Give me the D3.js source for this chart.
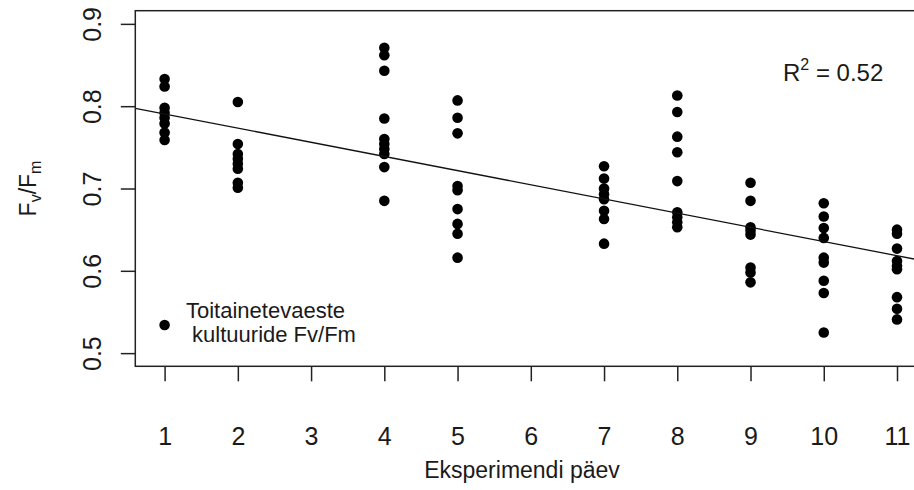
<!DOCTYPE html>
<html>
<head>
<meta charset="utf-8">
<script src="https://cdn.jsdelivr.net/npm/d3@7"></script>
<style>
  body { margin: 0; background: #fff; }
  text { font-family: "Liberation Sans", Arial, sans-serif; fill: #1a1a1a; }
</style>
</head>
<body>
<div class="chart"></div>
<script>
const days = [1, 2, 4, 5, 7, 8, 9, 10, 11];
const day1 = [0.833, 0.824, 0.798, 0.792, 0.786, 0.779, 0.768, 0.759];
const day2 = [0.805, 0.754, 0.742, 0.736, 0.730, 0.724, 0.707, 0.701];
const day4 = [0.871, 0.862, 0.843, 0.785, 0.760, 0.754, 0.748, 0.742, 0.726, 0.685];
const day5 = [0.807, 0.786, 0.767, 0.703, 0.698, 0.675, 0.657, 0.645, 0.616];
const day7 = [0.727, 0.712, 0.700, 0.693, 0.687, 0.673, 0.663, 0.633];
const day8 = [0.813, 0.793, 0.763, 0.744, 0.709, 0.671, 0.665, 0.659, 0.653];
const day9 = [0.707, 0.685, 0.653, 0.649, 0.644, 0.604, 0.598, 0.586];
const day10 = [0.682, 0.666, 0.652, 0.640, 0.616, 0.610, 0.588, 0.573, 0.525];
const day11 = [0.650, 0.645, 0.627, 0.612, 0.606, 0.602, 0.568, 0.554, 0.541];
const dayValues = [day1, day2, day4, day5, day7, day8, day9, day10, day11];

const xTicks = [1, 2, 3, 4, 5, 6, 7, 8, 9, 10, 11];
const yTicks = [0.5, 0.6, 0.7, 0.8, 0.9];
const fitCoef = [0.8078, -0.01722]; // intercept, slope
const r2Label = "0.52";
const legendLines = ["Toitainetevaeste", " kultuuride Fv/Fm"];

const points = [];
days.forEach((d, i) => dayValues[i].forEach(v => points.push({day: d, value: v})));

const width = 914, height = 490;
const svg = d3.select(".chart").append("svg")
    .attr("width", width)
    .attr("height", height);

const x = d3.scaleLinear().domain([0.6, 11.4]).range([135.3, 926.3]);
const y = d3.scaleLinear().domain([0.484, 0.916]).range([366.3, 10.7]);

svg.append("clipPath").attr("id", "plotclip")
    .append("rect")
    .attr("x", x(0.6)).attr("y", y(0.916))
    .attr("width", x(11.4) - x(0.6)).attr("height", y(0.484) - y(0.916));

// points
svg.append("g")
    .selectAll("circle")
    .data(points)
    .enter()
    .append("circle")
    .attr("cx", d => x(d.day))
    .attr("cy", d => y(d.value))
    .attr("r", 5.3)
    .attr("fill", "#000");

// regression line
svg.append("line")
    .attr("clip-path", "url(#plotclip)")
    .attr("x1", x(0.6)).attr("y1", y(fitCoef[0] + fitCoef[1] * 0.6))
    .attr("x2", x(11.4)).attr("y2", y(fitCoef[0] + fitCoef[1] * 11.4))
    .attr("stroke", "#111")
    .attr("stroke-width", 1.3);

// box
svg.append("rect")
    .attr("x", x(0.6)).attr("y", y(0.916))
    .attr("width", x(11.4) - x(0.6)).attr("height", y(0.484) - y(0.916))
    .attr("fill", "none")
    .attr("stroke", "#222")
    .attr("stroke-width", 1.5);

// axes
const xAxis = d3.axisBottom(x).tickValues(xTicks).tickSize(15).tickSizeOuter(0).tickPadding(46);
const gx = svg.append("g")
    .attr("transform", `translate(0, ${y(0.484)})`)
    .call(xAxis);
gx.select(".domain").remove();
gx.selectAll("line").attr("stroke", "#222").attr("stroke-width", 1.5);
gx.selectAll("text").attr("font-size", 25).attr("fill", "#1a1a1a");

const yAxis = d3.axisLeft(y).tickValues(yTicks).tickSize(14.5).tickSizeOuter(0).tickFormat(d3.format(".1f"));
const gy = svg.append("g")
    .attr("transform", `translate(${x(0.6)}, 0)`)
    .call(yAxis);
gy.select(".domain").remove();
gy.selectAll("line").attr("stroke", "#222").attr("stroke-width", 1.5);
gy.selectAll("text")
    .attr("font-size", 25)
    .attr("fill", "#1a1a1a")
    .attr("x", null).attr("dy", null)
    .attr("text-anchor", "middle")
    .attr("transform", "translate(-34, 0) rotate(-90)");

// axis titles
svg.append("text")
    .attr("x", 522)
    .attr("y", 478)
    .attr("text-anchor", "middle")
    .attr("font-size", 23)
    .text("Eksperimendi päev");

const yt = svg.append("text")
    .attr("transform", `translate(36, ${(y(0.5) + y(0.9)) / 2}) rotate(-90)`)
    .attr("text-anchor", "middle")
    .attr("font-size", 23);
yt.append("tspan").text("F");
yt.append("tspan").attr("font-size", 16).attr("dy", 5).text("v");
yt.append("tspan").attr("dy", -5).text("/");
yt.append("tspan").text("F");
yt.append("tspan").attr("font-size", 16).attr("dy", 5).text("m");

// R squared
const rt = svg.append("text")
    .attr("x", 783)
    .attr("y", 81)
    .attr("font-size", 24);
rt.append("tspan").text("R");
rt.append("tspan").attr("font-size", 16).attr("dy", -11).text("2");
rt.append("tspan").attr("dy", 11).text(" = " + r2Label);

// legend
svg.append("circle")
    .attr("cx", x(1))
    .attr("cy", 325)
    .attr("r", 5.3)
    .attr("fill", "#000");
svg.append("g")
    .selectAll("text")
    .data(legendLines)
    .enter()
    .append("text")
    .attr("x", 186)
    .attr("y", (d, i) => 318 + i * 24)
    .attr("font-size", 22)
    .attr("xml:space", "preserve")
    .style("white-space", "pre")
    .text(d => d);
</script>
</body>
</html>
